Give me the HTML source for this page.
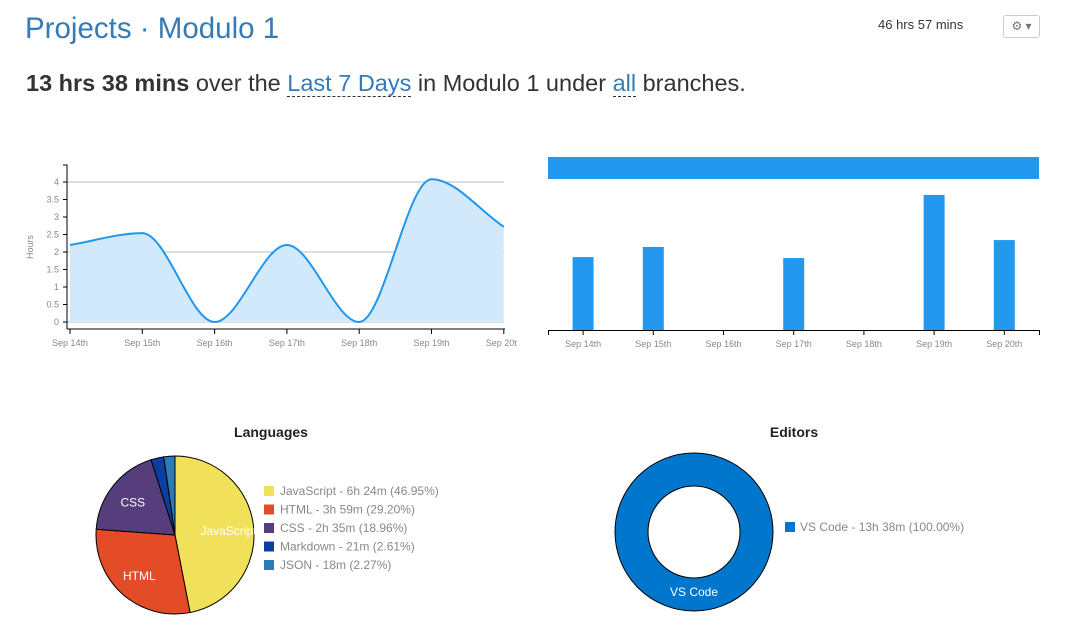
<!DOCTYPE html>
<html><head><meta charset="utf-8">
<style>
body{margin:0;width:1076px;height:633px;background:#fff;font-family:"Liberation Sans",sans-serif;overflow:hidden;position:relative}
.a{position:absolute}
</style></head><body>
<div class="a" style="left:25px;top:12px;font-size:29.5px;color:#337ab7">Projects · Modulo 1</div>
<div class="a" style="left:878px;top:17px;font-size:13px;color:#333">46 hrs 57 mins</div>
<div class="a" style="left:1003px;top:15px;width:35px;height:21px;border:1px solid #ccc;border-radius:3px;font-size:12px;color:#777;text-align:center;line-height:21px">⚙ ▾</div>
<div class="a" style="left:26px;top:70px;font-size:23.5px;color:#333"><b>13 hrs 38 mins</b> over the <span style="color:#337ab7;border-bottom:1px dashed #333">Last 7 Days</span> in Modulo 1 under <span style="color:#337ab7;border-bottom:1px dashed #333">all</span> branches.</div>
<svg class="a" style="left:0;top:0" width="1076" height="633" id="s" font-family="Liberation Sans, sans-serif"></svg>
<script>
const days=["Sep 14th","Sep 15th","Sep 16th","Sep 17th","Sep 18th","Sep 19th","Sep 20th"];
const lineHours=[2.2,2.54,0,2.2,0,4.08,2.72];
const barHours=[2.23,2.54,0,2.2,0,4.13,2.75];
const yTicks=[0,0.5,1,1.5,2,2.5,3,3.5,4];
const langNames=["JavaScript","HTML","CSS","Markdown","JSON"];
const langTimes=["6h 24m","3h 59m","2h 35m","21m","18m"];
const langPct=[46.95,29.20,18.96,2.61,2.27];
const langColors=["#f1e05a","#e34c26","#563d7c","#083fa1","#2b7bb9"];
const editorNames=["VS Code"];
const editorTimes=["13h 38m"];
const editorPct=[100];
const s=document.getElementById('s');const NS="http://www.w3.org/2000/svg";
function el(t,a,p,txt){const e=document.createElementNS(NS,t);for(const k in a)e.setAttribute(k,a[k]);if(txt!=null)e.textContent=txt;(p||s).appendChild(e);return e;}
// line chart
const lx=i=>70+i*72.3, ly=v=>322-v*35;
const lg=el('g',{});
yTicks.forEach(t=>{const tl=el('text',{x:59,y:ly(t)+3,'font-size':9,fill:'#888','text-anchor':'end'},lg,String(t));
el('line',{x1:63,x2:67,y1:ly(t),y2:ly(t),stroke:'#000'},lg);});
[0,2,4].forEach(t=>el('line',{x1:67,x2:504,y1:ly(t),y2:ly(t),stroke:'#bbb'},lg));
const pts=lineHours.map((v,i)=>[lx(i),ly(v)]);
// monotone cubic (Fritsch-Carlson)
const n=pts.length,sl=[],m=[];
for(let i=0;i<n-1;i++)sl.push((pts[i+1][1]-pts[i][1])/(pts[i+1][0]-pts[i][0]));
for(let i=0;i<n;i++){if(i==0)m.push(sl[0]);else if(i==n-1)m.push(sl[n-2]);else m.push(sl[i-1]*sl[i]<=0?0:(sl[i-1]+sl[i])/2);}
for(let i=0;i<n-1;i++){if(sl[i]==0){m[i]=0;m[i+1]=0;continue;}const a=m[i]/sl[i],b=m[i+1]/sl[i],h=a*a+b*b;if(h>9){const t=3/Math.sqrt(h);m[i]=t*a*sl[i];m[i+1]=t*b*sl[i];}}
let d="M"+pts[0];
for(let i=0;i<n-1;i++){const h=(pts[i+1][0]-pts[i][0])/3;d+=" C"+(pts[i][0]+h)+","+(pts[i][1]+m[i]*h)+" "+(pts[i+1][0]-h)+","+(pts[i+1][1]-m[i+1]*h)+" "+pts[i+1][0]+","+pts[i+1][1];}
const ar=el('path',{d:d+" L"+lx(6)+","+ly(0)+" L"+lx(0)+","+ly(0)+"Z",fill:'#d2e9fb'},lg);
const ln=el('path',{d:d,fill:'none',stroke:'#2196ee','stroke-width':2},lg);
el('path',{d:"M63,165H67V329",fill:'none',stroke:'#000'},lg);
el('line',{x1:67,x2:505,y1:329,y2:329,stroke:'#000'},lg);
days.forEach((dd,i)=>{el('line',{x1:lx(i),x2:lx(i),y1:329,y2:334,stroke:'#000'},lg);
const t=el('text',{x:lx(i),y:346,'font-size':9,fill:'#888','text-anchor':'middle'},lg,dd);});
el('rect',{x:517,y:335,width:30,height:15,fill:'#fff'},lg);
const yt=el('text',{x:33,y:247,'font-size':9,fill:'#888','text-anchor':'middle',transform:'rotate(-90 33 247)'},lg,'Hours');
// bar chart
const bx=i=>548+(i+0.5)*70.2, by=v=>330-v*32.7;
const bg=el('g',{});
const bn=el('rect',{x:548,y:157,width:491,height:22,fill:'#2299ee'},bg);
barHours.forEach((v,i)=>{if(v<=0)return;const r=el('rect',{x:bx(i)-10.5,y:by(v),width:21,height:330-by(v),fill:'#2299ee'},bg);});
el('path',{d:"M548.5,335V330.5H1039.5V335",fill:'none',stroke:'#000'},bg);
days.forEach((dd,i)=>{el('line',{x1:bx(i),x2:bx(i),y1:330,y2:335,stroke:'#000'},bg);
const t=el('text',{x:bx(i),y:347,'font-size':9,fill:'#888','text-anchor':'middle'},bg,dd);});
// pie
function arc(cx,cy,r,ri,a0,a1){const p=(a,R)=>[cx+R*Math.sin(a),cy-R*Math.cos(a)];const lg=(a1-a0)>Math.PI?1:0;
if(a1-a0>=2*Math.PI-1e-6){return `M${cx},${cy-r}A${r},${r} 0 1 1 ${cx},${cy+r}A${r},${r} 0 1 1 ${cx},${cy-r}Z`+(ri?`M${cx},${cy-ri}A${ri},${ri} 0 1 0 ${cx},${cy+ri}A${ri},${ri} 0 1 0 ${cx},${cy-ri}Z`:"");}
const A=p(a0,r),B=p(a1,r);return ri?"":`M${cx},${cy}L${A}A${r},${r} 0 ${lg} 1 ${B}Z`;}
const t1=el('text',{x:271,y:437,'font-size':14,'font-weight':'bold',fill:'#222','text-anchor':'middle'},null,'Languages');
const pg=el('g',{});
let a=0;const cx=175,cy=535,R=79;
langPct.forEach((p,i)=>{const a1=a+p/100*2*Math.PI;const sl=el('path',{d:arc(cx,cy,R,0,a,a1),fill:langColors[i],stroke:'#000','stroke-width':1},pg);
if(p>10){const m=(a+a1)/2;const t=el('text',{x:cx+R*0.68*Math.sin(m),y:cy-R*0.68*Math.cos(m)+5,'font-size':12,fill:'#fff','text-anchor':'middle'},pg,langNames[i]);}
a=a1;});
langNames.forEach((n,i)=>{const g=el('g',{});
el('rect',{x:264,y:486+i*18.5,width:10,height:10,fill:langColors[i]},g);
el('text',{x:280,y:495+i*18.5,'font-size':12,fill:'#888'},g,`${n} - ${langTimes[i]} (${langPct[i].toFixed(2)}%)`);});
// donut
const t2=el('text',{x:794,y:437,'font-size':14,'font-weight':'bold',fill:'#222','text-anchor':'middle'},null,'Editors');
const dg=el('g',{});
const ring=el('path',{d:arc(694,532,79,46,0,editorPct[0]/100*2*Math.PI),fill:'#0077cc',stroke:'#000','fill-rule':'evenodd'},dg);
const dl=el('text',{x:694,y:596,'font-size':12,fill:'#fff','text-anchor':'middle'},dg,editorNames[0]);
const eg=el('g',{});
el('rect',{x:785,y:522,width:10,height:10,fill:'#0077cc'},eg);
el('text',{x:800,y:531,'font-size':12,fill:'#888'},eg,`${editorNames[0]} - ${editorTimes[0]} (${editorPct[0].toFixed(2)}%)`);
</script>
</body></html>
